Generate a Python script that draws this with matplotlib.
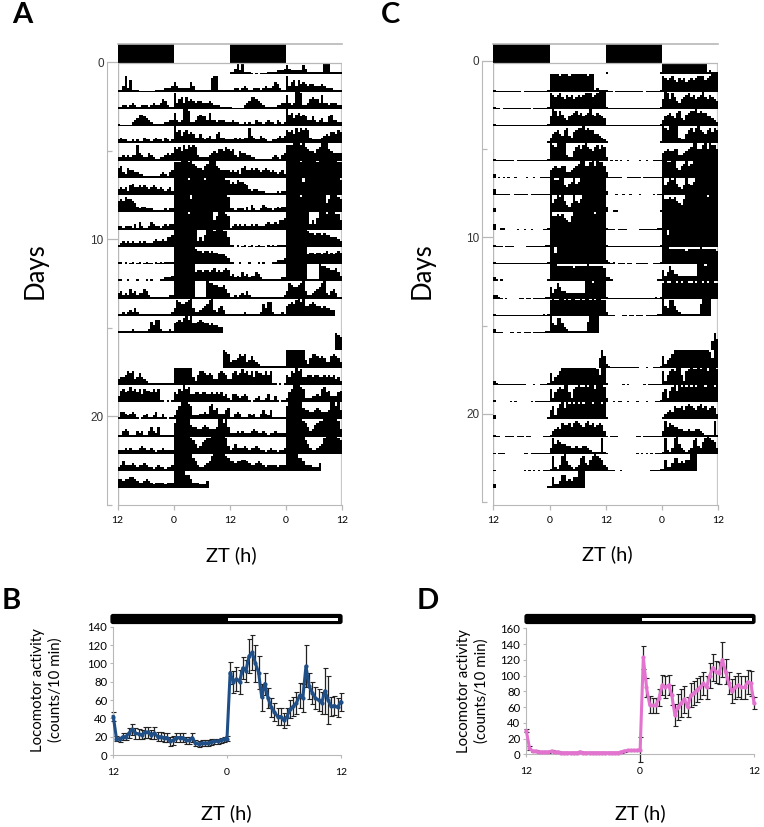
#recreate the actogram figure - panels A,C (double plotted) and B,D (mean activity)
import numpy as np
import matplotlib
matplotlib.use('Agg')
import matplotlib.pyplot as plt
from matplotlib.patches import Rectangle, FancyBboxPatch

W, H = 764, 827

#activity per day, 30 min bins, 0-9 where 9 fills a whole row
#night = ZT12-0, light = ZT0-12. empty list = no recording
a_night = [
 [1,1,3,8,2,6,1,1,1,.5,.3,.5,.3,.5,.5,.5,1,1,1,1,2,2,2,3],
 [1,1,2,2,1,2,3,2,1,1,2,2,2,1,2,3,2,2,3,5,4,2,1,1],
 [1,.5,.3,.5,.5,.5,2,3,4,6,6,5,4,3,2,1,1,1,1,1,2,2,3,3],
 [2,3,2,2,1,1,2,1,2,1,1,3,2,2,1,2,3,2,2,1,3,2,1,2],
 [2,2,3,2,3,2,3,3,8,4,3,2,2,4,3,2,1,1,2,2,3,4,3,4],
 [5,6,3,2,5,4,4,3,3,2,2,1,1,1,1,1,1,1,2,3,2,1,3,4],
 [3,4,3,4,2,5,6,4,4,5,4,5,4,3,4,5,4,3,4,3,2,3,4,2],
 [6,7,6,8,7,7,6,5,3,2,3,3,2,2,2,1,1,1,1,1,2,1,2,2],
 [2,2,1,2,2,2,1,3,1,4,2,1,1,2,4,3,2,2,1,2,3,2,3,3],
 [1,2,3,2,3,2,3,2,2,3,2,3,2,2,2,3,4,3,3,4,3,5,5,6],
 [1,1,0,1,0,.5,1,0,.5,1,0,.5,1,.5,.5,0,1,.5,1,.5,1,1,1,1],
 [1,1,0,0,1,0,0,0,1,0,0,0,1,0,1,0,0,0,1,1,2,2,2,3],
 [3,4,2,3,2,5,3,4,2,3,3,5,4,2,1,1,1,1,1,1,1,1,2,2],
 [1,1,2,1,2,3,2,4,2,1,1,1,1,1,1,1,1,1,1,1,1,1,1,2],
 [1,1,1,1,1,1,2,1,1,1,1,1,1,2,6,4,7,7,2,1,1,1,2,1],
 [],
 [],
 [3,4,4,5,7,6,7,3,4,6,4,3,2,1,1,1,1,1,1,1,1,1,1,1],
 [3,6,7,5,6,8,6,7,5,7,4,7,6,6,5,7,5,7,1,1,0,1,0,1],
 [1,4,4,3,2,3,4,3,1,0,1,2,3,1,1,2,4,1,1,3,1,0,1,1],
 [1,1,3,4,3,1,1,1,3,2,3,1,1,3,5,3,2,5,1,1,1,1,1,1],
 [2,2,2,3,2,3,2,2,2,3,4,3,2,2,3,2,1,2,2,3,2,2,2,2],
 [2,3,5,3,3,3,4,3,2,3,3,4,3,2,2,1,2,3,2,2,1,2,2,3],
 [5,5,4,5,5,6,6,5,4,3,3,4,5,4,3,2,3,3,3,3,2,3,3,3],
]
a_light = [
 [5,3,2,2,2,2,2,5,3,1,1,1,1,1,1,1,7,8,8,1,1,1,1,1],
 [8,3,5,6,3,6,4,5,4,3,4,4,3,3,3,4,3,2,2,2,1,1,1,1],
 [7,3,2,3,9,9,8,2,2,3,5,6,5,5,3,7,3,3,2,3,3,3,2,2],
 [9,6,7,4,6,7,5,6,5,3,3,5,3,2,3,4,2,2,5,6,3,3,2,2],
 [7,6,7,5,8,6,8,7,8,7,3,2,2,2,2,3,4,5,4,6,6,5,7,6],
 [8,8,8,9,9,9,8,9,7,6,5,5,4,6,7,9,9,9,6,5,4,4,4,4],
 [9,9,9,9,9,9,8,9,9,9,9,9,9,8,9,9,9,9,9,9,9,9,8,8],
 [9,9,9,9,9,9,9,7,9,9,9,9,9,9,9,9,9,9,9,9,9,9,9,8],
 [9,9,9,9,9,9,8,9,9,9,9,9,9,9,9,9,9,5,7,9,9,9,8,7],
 [9,9,9,9,9,9,9,9,9,9,3,5,3,6,9,9,9,8,9,9,9,8,8,5],
 [9,9,9,9,9,9,9,9,9,8,7,7,6,7,7,6,7,6,6,5,5,5,4,3],
 [9,9,9,9,9,9,9,9,9,5,6,6,5,6,6,5,6,7,5,6,5,6,7,6],
 [9,9,9,9,9,9,9,9,9,1,1,1,1,1,9,8,8,7,7,6,6,7,5,3],
 [4,8,7,6,6,7,8,9,4,2,2,3,4,5,6,8,9,3,2,4,5,3,1,1],
 [5,6,7,6,8,9,7,9,5,5,6,7,6,5,5,4,5,4,4,3,3],
 [],
 [0,0,0,0,0,0,0,0,0,0,0,0,0,0,0,0,0,0,0,0,0,9,8,7],
 [9,9,9,9,9,9,9,9,4,2,5,7,7,6,5,6,5,3,3,6,7,6,5,3],
 [5,4,7,6,9,7,8,4,4,5,5,4,5,5,4,4,5,4,5,4,5,3,4,2],
 [2,5,7,9,9,9,8,7,2,2,2,3,3,4,3,7,8,5,6,3,3,3,5,6],
 [7,9,9,9,9,9,9,6,5,5,4,4,5,6,5,4,4,4,5,9,9,7,9,5],
 [9,9,9,9,9,9,9,8,7,5,3,4,6,7,8,8,9,9,9,9,9,9,8,4],
 [9,9,9,9,9,9,9,9,7,5,3,2,2,3,4,5,8,9,9,9,9,9,8,7],
 [9,9,9,9,9,7,7,5,3,3,3,2,2,2,4],
]
c_night = [
 [1,.3,.3,.3,.3,.3,.3,.3,.3,.3,.3,.3,0,.3,.3,.3,.3,.3,.3,.3,.3,.3,.3,1],
 [1,.3,.3,0,.3,.3,.3,.3,.3,.3,.3,.3,.3,.3,.3,.3,0,.3,.3,.3,.3,.3,.3,1],
 [1,.3,.3,.3,.3,.3,.3,.3,.3,.3,.3,.3,.3,.3,.3,.3,.3,.3,.3,.3,.3,.3,.3,1],
 [.3,.3,.3,.3,.3,.3,.3,.3,.3,.3,.3,.3,.3,.3,.3,.3,.3,.3,.3,.3,.3,.3,.3,1],
 [1,.3,.3,.3,.3,.3,.3,.3,.3,0,.3,.3,.3,.3,.3,.3,.3,.3,.3,.3,.3,.3,.3,1],
 [2,0,.3,0,.3,0,.3,0,0,.3,0,0,0,0,.3,0,0,.3,0,0,.3,.3,.3,.3],
 [3,.3,.3,.3,.3,.3,.3,0,0,.3,.3,.3,.3,.3,.3,0,.3,.3,.3,.3,.3,.3,.3,.3],
 [2,0,0,0,.3,0,0,.3,0,0,.3,0,0,0,.3,0,0,0,0,0,.3,0,.3,.3],
 [3,0,0,1,1,0,0,0,0,0,.3,0,0,.3,0,0,.3,0,0,0,0,.3,.3,1],
 [1,.3,.3,.3,0,.3,.3,.3,.3,0,0,0,0,0,.3,.3,.3,.3,.3,.3,.3,.3,1,1],
 [1,.3,.3,.3,.3,.3,.3,.3,.3,.3,.3,.3,.3,.3,.3,.3,.3,.3,.3,.3,.3,.3,.3,1],
 [2,1,.3,1,0,.3,.3,.3,0,.3,.3,0,0,.3,.3,.3,.3,.3,0,0,.3,.3,.3,1],
 [2,2,1,.3,0,.3,0,0,0,0,0,.3,.3,0,.3,.3,0,.3,.3,.3,.3,.3,1,1],
 [1,.3,.3,.3,.3,.3,.3,.3,.3,.3,.3,.3,.3,.3,.3,.3,.3,.3,.3,.3,.3,1,.3,1],
 [2,.3,.3,.3,0,0,0,.3,.3,0,.3,.3,0,.3,.3,.3,0,.3,.3,.3,.3,.3,1,1],
 [],
 [],
 [2,1,.3,.3,.3,.3,.3,.3,.3,.3,.3,.3,.3,.3,0,0,0,.3,0,0,.3,.3,.3,1],
 [1,0,0,0,0,0,0,.3,0,.3,0,0,0,0,0,0,.3,0,.3,.3,.3,.3,.3,.3],
 [2,0,0,.3,0,.3,.3,0,0,.3,0,0,0,.3,0,0,0,.3,0,0,0,.3,.3,1],
 [1,.3,.3,0,0,.3,.3,.3,.3,0,.3,.3,.3,0,.3,.3,0,0,0,0,0,.3,.3,.3],
 [.3,0,.3,.3,.3,0,0,0,0,0,0,0,0,.3,.3,0,.3,.3,.3,.3,.3,.3,.3,.3],
 [.3,0,0,0,0,0,0,0,0,0,0,0,0,.3,0,.3,0,.3,0,.3,0,.3,.3,.3],
 [2,.3,.3,.3,0,0,.3,0,0,0,0,0,0,0,0,0,0,0,0,.3,.3,.3,.3,1],
]
c_light = [
 [9,9,9,9,8,9,9,9,8,9,9,9,9,9,9,9,8,9,9,1,2,1,1,1],
 [8,7,6,7,8,6,5,7,6,7,5,6,7,6,7,8,8,8,6,7,8,9,9,9],
 [5,9,8,5,8,6,4,3,5,6,7,8,6,7,5,6,7,9,6,5,7,6,5,4],
 [3,5,6,7,5,4,7,8,4,3,6,7,8,8,9,7,8,7,7,5,5,4,3,2],
 [9,8,7,9,9,9,9,3,2,2,5,7,8,6,8,9,7,6,5,7,8,6,8,7],
 [4,5,6,5,5,6,6,3,3,4,5,6,7,9,9,6,6,8,9,6,9,8,8,6],
 [9,9,8,8,9,9,5,4,6,7,9,6,7,9,9,9,9,9,9,9,9,9,9,9],
 [9,5,7,9,8,9,6,4,3,5,9,6,5,7,9,9,9,9,9,9,9,9,9,9],
 [9,7,7,8,7,8,6,5,4,7,9,9,9,9,9,9,9,9,9,8,9,9,9,9],
 [9,9,9,9,9,9,9,9,9,9,9,9,9,9,9,9,9,9,9,9,9,9,9,9],
 [9,9,6,9,9,9,9,9,9,9,9,9,9,9,9,9,9,9,9,9,9,9,9,9],
 [9,9,9,8,8,8,8,8,8,8,7,8,8,8,8,8,9,8,8,8,8,8,8,7],
 [6,3,5,8,6,4,4,3,3,3,3,3,3,3,3,9,9,9,8,9,9,9,9,9],
 [8,9,8,8,9,9,8,9,8,9,9,8,8,9,8,9,9,8,9,8,9,9,8,8],
 [9,5,4,8,8,5,3,2,1,1,1,1,1,1,1,1,6,9,9,9,9],
 [],
 [0,0,0,0,0,0,0,0,0,0,0,0,0,0,0,0,0,0,0,0,0,5,9,6],
 [6,2,4,5,7,9,9,9,9,9,9,9,9,9,9,9,9,9,9,9,8,5,9,9],
 [7,2,5,7,8,7,9,9,5,2,7,8,9,8,8,9,8,9,9,7,9,9,9,8],
 [5,7,2,6,8,9,6,9,8,9,8,9,8,9,8,9,9,9,8,9,9,9,8,9],
 [1,3,4,5,4,7,6,6,7,5,7,8,7,6,5,7,8,6,7,5,6,7,6,3],
 [3,8,5,7,6,5,5,4,4,3,3,4,3,3,4,4,3,2,1,1,1,1,8,1],
 [1,8,2,1,3,8,9,5,3,2,1,2,3,7,8,4,3,6,8,9,8,7,6,3],
 [1,6,2,2,4,7,7,4,5,4,6,6,9,9,9],
]

#mean activity, 20 min bins, ZT12 -> ZT0 -> ZT12
b_mean = [42,18,17,20,20,24,28,24,23,22,25,25,22,24,20,20,19,19,15,16,19,19,19,16,16,19,13,12,13,13,13,14,15,15,16,17,
          18,90,80,83,80,95,92,108,112,100,90,63,78,62,52,47,42,42,38,42,50,53,57,65,62,97,75,68,62,60,57,70,60,53,54,52,58]
b_err = [5,3,3,4,4,5,6,6,5,5,6,6,5,7,5,5,5,5,5,5,5,5,5,4,4,5,3,3,3,3,3,3,3,3,3,3,
         3,12,12,13,13,12,12,19,19,20,18,15,12,11,10,10,9,9,8,9,10,10,12,14,15,23,14,12,12,12,12,25,26,10,10,10,10]
d_mean = [30,8,4,4,3,3,3,3,4,3,3,2,2,2,2,2,2,3,2,2,2,2,2,2,2,2,2,2,2,2,3,4,5,5,5,5,
          6,123,85,63,62,62,72,88,85,88,75,50,60,65,70,60,75,78,82,85,90,85,100,110,105,103,120,105,90,80,85,88,85,85,92,90,65]
d_err = [2,2,1,1,1,1,1,1,1,1,1,1,1,1,1,1,1,1,1,1,1,1,1,1,1,1,1,1,1,1,1,1,1,1,1,1,
         16,15,12,11,10,10,11,13,14,13,13,14,16,18,17,13,15,15,15,15,15,15,16,17,14,14,22,16,14,15,15,15,15,15,15,16,8]

ld_labels = ['12','0','12','0','12']
mean_labels = ['12','0','12']
b_yticks = [0,20,40,60,80,100,120,140]
d_yticks = [0,20,40,60,80,100,120,140,160]

#colours
grid_gray = '#b8b8b8'
txt = 'black'
px = 0.72  #one pixel in points at dpi 100

plt.rcParams['font.family'] = ['Lato','DejaVu Sans']
fig = plt.figure(figsize=(W/100,H/100),dpi=100)

def add_axes_px(x0,y0,x1,y1):
    #pixel box measured from the top left of the picture
    return fig.add_axes([x0/W,1-y1/H,(x1-x0)/W,(y1-y0)/H])

def actogram(x0,x1,spine_x,day0,days25,night,light):
    top, bottom = 44.0, 505.0
    ax = add_axes_px(x0,top,x1,bottom)
    per_day = (days25-day0)/25
    ax.set_xlim(0,96)
    ax.set_ylim((bottom-day0)/per_day,(top-day0)/per_day)

    #row r holds day r-1 and day r
    first = (74.3-day0)/per_day
    step = 17.25/per_day
    blank = [0]*48
    series = [list(n)+[0]*(24-len(n))+list(l)+[0]*(24-len(l)) for n,l in zip(night,light)]
    for r in range(25):
        left = series[r-1] if r>0 else blank
        right = series[r] if r<len(series) else blank
        vals = np.array(left+right+[0])
        base = first+r*step
        #one stepped shape per row, separate bars leave hairline seams in the black blocks
        ax.fill_between(np.arange(97),base,base-vals/9*step,step='post',color='black',linewidth=0,zorder=2)

    #light/dark bar along the top
    bar_y = (top-day0)/per_day
    bar_h = (63.5-top)/per_day
    for k in range(4):
        ax.add_patch(Rectangle((k*24,bar_y),24,bar_h,facecolor='black' if k%2==0 else 'white',
                               edgecolor='none',zorder=4))
    ax.plot([0,96],[bar_y,bar_y],color=grid_gray,lw=1.2,zorder=5,clip_on=False)
    ax.plot([0,96],[bar_y+bar_h,bar_y+bar_h],color=grid_gray,lw=0.9,zorder=5)
    ax.axvline(0,color=grid_gray,lw=1.0,zorder=1)
    ax.axvline(96,color='#c8c8c8',lw=1.6,zorder=1)

    ax.spines['top'].set_visible(False)
    ax.spines['right'].set_visible(False)
    ax.spines['bottom'].set_color(grid_gray)
    ax.spines['left'].set_color(grid_gray)
    ax.spines['left'].set_position(('outward',(x0-spine_x)*px))
    ax.spines['left'].set_bounds(0,25)
    ax.set_yticks([0,10,20])
    ax.set_yticks([5,15,25],minor=True)
    ax.tick_params(axis='y',which='major',direction='in',length=(x0-spine_x)*px,width=0.9,color=grid_gray,
                   pad=3*px,labelsize=8.5,labelcolor='#333333')
    ax.tick_params(axis='y',which='minor',direction='in',length=5*px,width=0.9,color=grid_gray)
    for lab in ax.get_yticklabels():
        lab.set_family('Liberation Sans')
    ax.set_xticks([0,24,48,72,96])
    ax.set_xticklabels(ld_labels)
    ax.tick_params(axis='x',direction='out',length=5*px,width=0.9,color=grid_gray,pad=6*px,labelsize=7.5,labelcolor=txt)
    ax.patch.set_alpha(0)
    return ax

def mean_panel(x0,x1,ytop,ybot,ymax,yticks,mean,err,colour):
    ax = add_axes_px(x0,ytop,x1,ybot)
    x = np.arange(len(mean))
    ax.errorbar(x,mean,yerr=err,fmt='none',ecolor='#222222',elinewidth=0.9,capsize=1.8,capthick=0.8,zorder=2,clip_on=False)
    ax.plot(x,mean,color=colour,lw=2.2,marker='o',ms=2,zorder=3,clip_on=False)
    ax.set_xlim(0,72)
    ax.set_ylim(0,ymax)
    ax.spines['top'].set_visible(False)
    ax.spines['right'].set_visible(False)
    ax.spines['left'].set_color(grid_gray)
    ax.spines['bottom'].set_color(grid_gray)
    ax.set_yticks(yticks)
    ax.set_xticks([0,36,72])
    ax.set_xticklabels(mean_labels)
    ax.tick_params(axis='y',length=3*px,width=0.8,color=grid_gray,pad=3*px,labelsize=8.2,labelcolor=txt)
    ax.tick_params(axis='x',length=3*px,width=0.8,color=grid_gray,pad=10*px,labelsize=7.5,labelcolor=txt)
    ax.patch.set_alpha(0)
    return ax

def ld_strip(x0,x1,white0,white1):
    #black rounded strip, white part for the light phase
    ax = add_axes_px(x0,613,x1,625)
    ax.set_xlim(0,x1-x0)
    ax.set_ylim(12,0)
    ax.axis('off')
    ax.add_patch(FancyBboxPatch((1.5,2),x1-x0-3,8,boxstyle='round,pad=0,rounding_size=1.5',
                                facecolor='black',edgecolor='black',lw=1.6))
    ax.add_patch(Rectangle((white0-x0,4.7),white1-white0,3,facecolor='white',edgecolor='none'))

actogram(117.5,342,106.7,62.3,504.5,a_night,a_light)
actogram(493.3,718.3,482.3,60.7,502.3,c_night,c_light)
mean_panel(113.3,340.7,626.7,755,140,b_yticks,b_mean,b_err,'#1f4f86')
mean_panel(526.3,754,628.3,754.3,160,d_yticks,d_mean,d_err,'#e274cf')
ld_strip(110,343,228,338)
ld_strip(524,756,641.7,752)

def label_px(x,y,s,**kw):
    fig.text(x/W,1-y/H,s,ha='center',va='center',color=txt,**kw)

#panel letters
label_px(22,15,'A',fontsize=21,fontweight='bold')
label_px(390,15,'C',fontsize=21,fontweight='bold')
label_px(11,601,'B',fontsize=21,fontweight='bold')
label_px(428,601,'D',fontsize=21,fontweight='bold')

label_px(35,271,'Days',fontsize=18.5,rotation=90)
label_px(422,271,'Days',fontsize=18.5,rotation=90)
label_px(231,555,'ZT (h)',fontsize=14.5)
label_px(607,554,'ZT (h)',fontsize=14.5)
label_px(226,813,'ZT (h)',fontsize=14.5)
label_px(640,813,'ZT (h)',fontsize=14.5)

label_px(47,690,'Locomotor activity\n(counts/10 min)',fontsize=10.8,rotation=90,linespacing=1.25)
label_px(473,691,'Locomotor activity\n(counts/10 min)',fontsize=10.8,rotation=90,linespacing=1.25)

fig.savefig('out.png',dpi=100)
